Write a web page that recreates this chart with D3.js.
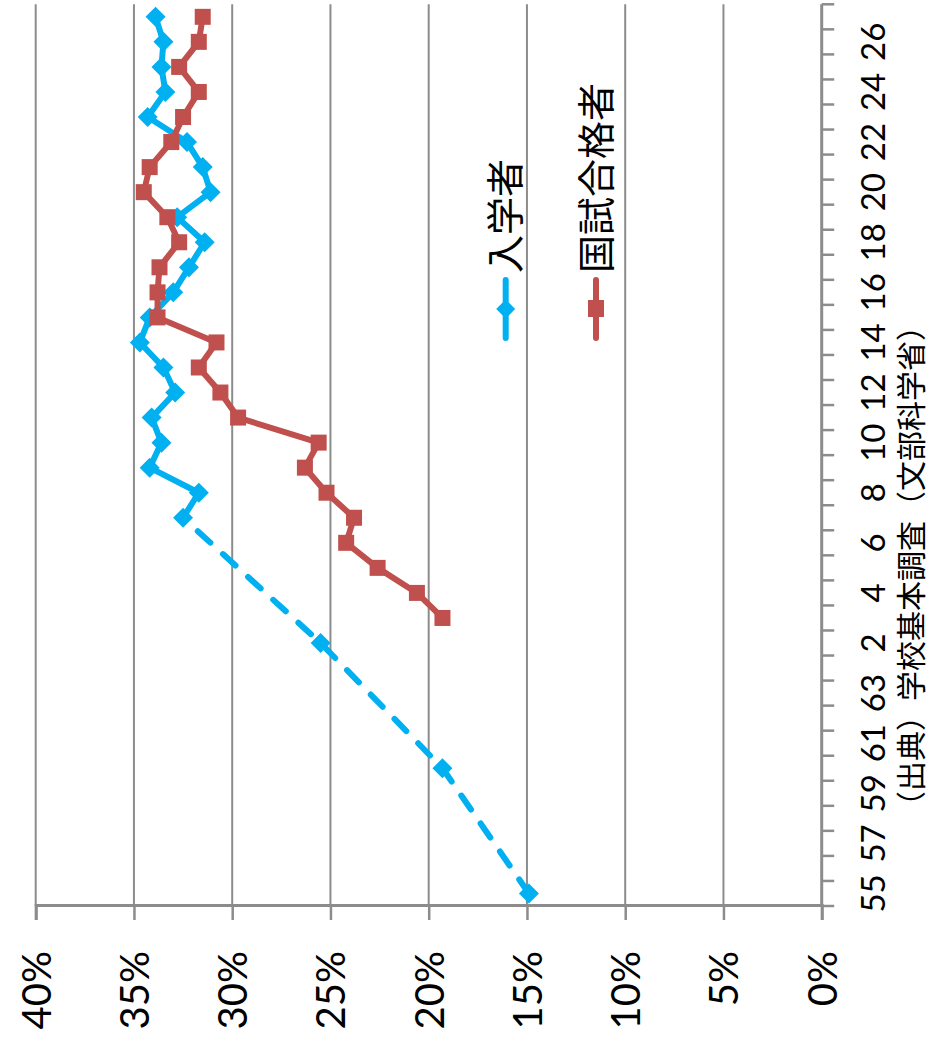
<!DOCTYPE html>
<html>
<head>
<meta charset="utf-8">
<script src="https://cdn.jsdelivr.net/npm/d3@7"></script>
<style>
  html, body { margin: 0; padding: 0; background: #fff; }
  svg { display: block; }
</style>
</head>
<body>
<svg id="chart" width="930" height="1045"></svg>
<script>
// Fiscal years: Showa 55–63, Heisei 元–27
const categories = ["55","56","57","58","59","60","61","62","63","元",
  "2","3","4","5","6","7","8","9","10","11","12","13","14","15","16",
  "17","18","19","20","21","22","23","24","25","26","27"];

// Share (%) — 入学者
const entrants = [14.9, null, null, null, null, 19.3, null, null, null, null,
  25.5, null, null, null, null, 32.5, 31.7, 34.2, 33.6, 34.1,
  32.9, 33.5, 34.7, 34.2, 33.0, 32.2, 31.4, 32.8, 31.1, 31.5,
  32.3, 34.3, 33.4, 33.6, 33.5, 33.9];

// Share (%) — 国試合格者
const passers = [null, null, null, null, null, null, null, null, null, null,
  null, 19.3, 20.6, 22.6, 24.2, 23.8, 25.2, 26.3, 25.6, 29.7,
  30.6, 31.7, 30.8, 33.8, 33.8, 33.7, 32.7, 33.3, 34.5, 34.2,
  33.1, 32.5, 31.7, 32.7, 31.7, 31.5];

const valueTicks = [0, 5, 10, 15, 20, 25, 30, 35, 40];
const seriesNames = ["入学者", "国試合格者"];
const axisTitle = "（出典）学校基本調査（文部科学省）";

const BLUE = "#00B0F0", RED = "#C0504D", GRID = "#8c8c8c";
const NUM_FONT = "Lato, 'Liberation Sans', sans-serif";
const JP_FONT = "'Noto Sans CJK JP', sans-serif";

const svg = d3.select("#chart");
// The chart is laid out as a normal line chart, then turned a quarter turn
// counter-clockwise so the years run up the right-hand side.
const g = svg.append("g").attr("transform", "translate(0,1045) rotate(-90)");

const x = d3.scaleBand().domain(categories).range([139, 1040.7]).padding(0);
const y = d3.scaleLinear().domain([0, 40]).range([821.7, 35.7]);
const cx = c => x(c) + x.bandwidth() / 2;

// Horizontal gridlines
g.append("g").selectAll("line")
  .data(valueTicks.filter(v => v > 0))
  .join("line")
  .attr("x1", x.range()[0]).attr("x2", x.range()[1])
  .attr("y1", d => y(d)).attr("y2", d => y(d))
  .attr("stroke", GRID).attr("stroke-width", 2);

// Value axis
const yAxis = g.append("g")
  .attr("transform", `translate(${x.range()[0]},0)`)
  .call(d3.axisLeft(y).tickValues(valueTicks).tickSize(14).tickPadding(31)
    .tickFormat(d => d + "%"));
yAxis.select(".domain").attr("stroke", GRID).attr("stroke-width", 3);
yAxis.selectAll(".tick line").attr("stroke", GRID).attr("stroke-width", 2.5);
yAxis.selectAll("text")
  .attr("font-family", NUM_FONT).attr("font-size", 40).attr("fill", "#000")
  .attr("dy", "0.36em");

// Category axis: ticks on band boundaries, labels on every second year
const catAxis = g.append("g").attr("transform", `translate(0,${y(0)})`);
catAxis.append("line")
  .attr("x1", x.range()[0]).attr("x2", x.range()[1])
  .attr("stroke", GRID).attr("stroke-width", 3);
const bounds = categories.map(c => x(c)).concat([x.range()[1]]);
catAxis.selectAll("line.tk").data(bounds).join("line")
  .attr("class", "tk")
  .attr("x1", d => d).attr("x2", d => d)
  .attr("y1", 0).attr("y2", 12.5)
  .attr("stroke", GRID).attr("stroke-width", 2.5);
const labelAxis = catAxis.append("g")
  .call(d3.axisBottom(x).tickValues(categories.filter((c, i) => i % 2 === 0)).tickSize(0));
labelAxis.select(".domain").remove();
labelAxis.selectAll("text")
  .attr("y", 885 - y(0)).attr("dy", 0)
  .attr("font-family", NUM_FONT).attr("font-size", 33).attr("fill", "#000");

// Source note under the category labels
g.append("text")
  .attr("x", 479).attr("y", 922)
  .attr("text-anchor", "middle")
  .attr("font-family", JP_FONT).attr("font-size", 30).attr("fill", "#000")
  .text(axisTitle);

// Series lines
const pts = arr => arr.map((v, i) => ({ c: categories[i], i, v })).filter(d => d.v != null);
const line = d3.line().x(d => cx(d.c)).y(d => y(d.v));

const bluePts = pts(entrants);
const splitIdx = 15; // yearly figures start here; earlier values are five-year points
g.append("path")
  .attr("d", line(bluePts.filter(d => d.i <= splitIdx)))
  .attr("fill", "none").attr("stroke", BLUE).attr("stroke-width", 6)
  .attr("stroke-dasharray", "17,17").attr("stroke-linecap", "round");
g.append("path")
  .attr("d", line(bluePts.filter(d => d.i >= splitIdx)))
  .attr("fill", "none").attr("stroke", BLUE).attr("stroke-width", 6)
  .attr("stroke-linejoin", "round");

const diamond = r => `M0,${-r}L${r},0L0,${r}L${-r},0Z`;
g.append("g").selectAll("path")
  .data(bluePts).join("path")
  .attr("transform", d => `translate(${cx(d.c)},${y(d.v)})`)
  .attr("d", diamond(10)).attr("fill", BLUE);

const redPts = pts(passers);
g.append("path")
  .attr("d", line(redPts))
  .attr("fill", "none").attr("stroke", RED).attr("stroke-width", 6)
  .attr("stroke-linejoin", "round");
g.append("g").selectAll("rect")
  .data(redPts).join("rect")
  .attr("x", d => cx(d.c) - 8).attr("y", d => y(d.v) - 8)
  .attr("width", 16).attr("height", 16).attr("fill", RED);

// Legend
const legend = g.append("g");
const legendRows = [
  { name: seriesNames[0], color: BLUE, shape: "diamond", yy: 505.7 },
  { name: seriesNames[1], color: RED, shape: "square", yy: 596 }
];
legendRows.forEach(r => {
  const row = legend.append("g").attr("transform", `translate(0,${r.yy})`);
  row.append("line").attr("x1", 707).attr("x2", 765).attr("y1", 0).attr("y2", 0)
    .attr("stroke", r.color).attr("stroke-width", 6).attr("stroke-linecap", "round");
  if (r.shape === "diamond") {
    row.append("path").attr("transform", "translate(736,0)").attr("d", diamond(9.5)).attr("fill", r.color);
  } else {
    row.append("rect").attr("x", 728).attr("y", -8).attr("width", 17).attr("height", 16).attr("fill", r.color);
  }
  row.append("text").attr("x", 772).attr("y", 0).attr("dy", "0.36em")
    .attr("font-family", JP_FONT).attr("font-size", 38).attr("fill", "#000")
    .text(r.name);
});
</script>
</body>
</html>
